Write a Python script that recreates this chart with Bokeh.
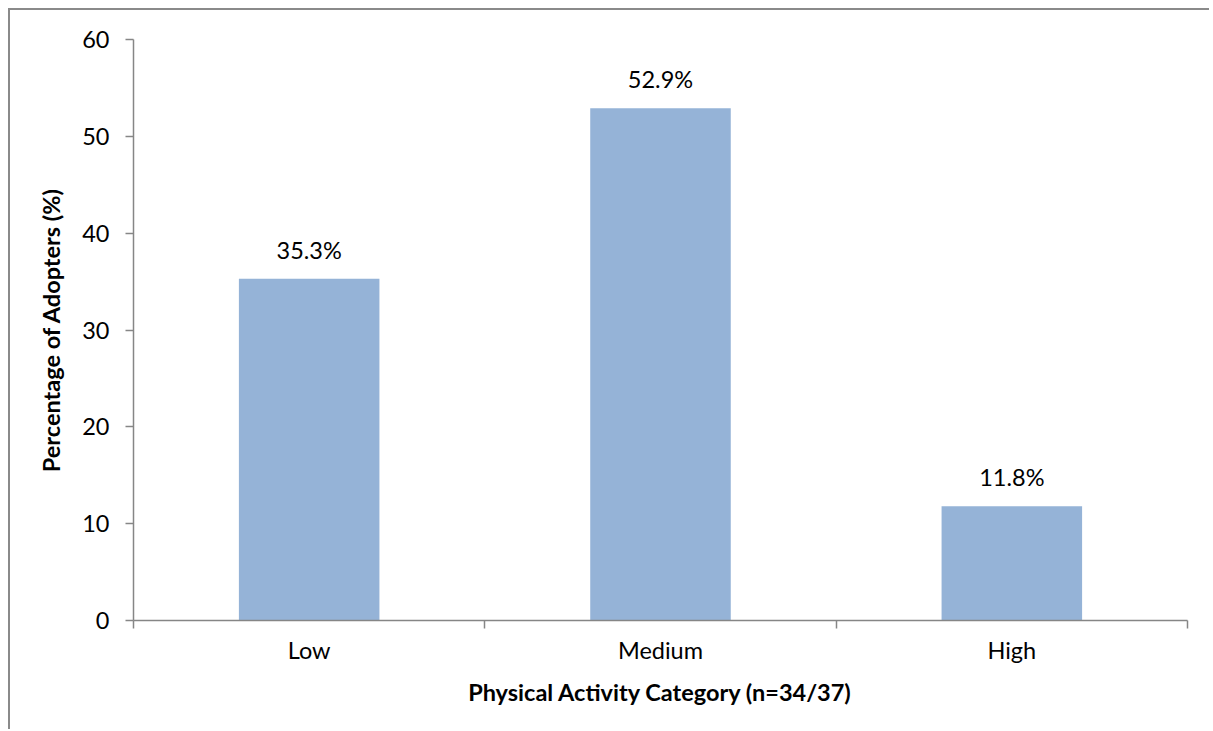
from bokeh.plotting import figure
from bokeh.models import ColumnDataSource, FixedTicker, Range1d
from bokeh.core.properties import value
from bokeh.embed import file_html
from bokeh.resources import INLINE

categories = ["Low", "Medium", "High"]
percentages = [35.3, 52.9, 11.8]
bar_labels = ["35.3%", "52.9%", "11.8%"]
y_ticks = [0, 10, 20, 30, 40, 50, 60]

FONT = "Lato"
FS = "23.5px"
positions = [i + 0.5 for i in range(len(categories))]

src = ColumnDataSource(dict(x=positions, top=percentages, label=bar_labels))

p = figure(width=1201, height=721, output_backend="svg", toolbar_location=None,
           x_range=Range1d(0, len(categories)), y_range=Range1d(0, 60),
           min_border_left=123, min_border_top=29, min_border_right=24, min_border_bottom=111,
           styles={"border-left": "2px solid #8a8a8a", "border-top": "2px solid #8a8a8a",
                   "margin-left": "8px", "margin-top": "8px"})
p.outline_line_color = None
p.xgrid.grid_line_color = None
p.ygrid.grid_line_color = None
p.background_fill_color = "white"
p.border_fill_color = "white"

p.vbar(x="x", top="top", width=0.4, bottom=0, source=src, fill_color="#95B3D7", line_color=None)
p.text(x="x", y="top", text="label", source=src, text_align="center", text_baseline="bottom",
       y_offset=-15, text_font=value(FONT), text_font_size=FS, text_color="black")

# x axis
p.xaxis.ticker = FixedTicker(ticks=positions, minor_ticks=list(range(len(categories) + 1)))
p.xaxis.major_label_overrides = {pos: c for pos, c in zip(positions, categories)}
p.xaxis.major_tick_out = 0
p.xaxis.major_tick_in = 0
p.xaxis.minor_tick_out = 8
p.xaxis.minor_tick_in = 0
p.xaxis.axis_label = "Physical Activity Category (n=34/37)"

p.yaxis.ticker = FixedTicker(ticks=y_ticks)
p.yaxis.major_tick_out = 8
p.yaxis.major_tick_in = 0
p.yaxis.minor_tick_line_color = None
p.yaxis.axis_label = "Percentage of Adopters (%)"

for ax in (p.xaxis[0], p.yaxis[0]):
    ax.axis_line_color = "#868686"
    ax.axis_line_width = 1.5
    ax.major_tick_line_color = "#868686"
    ax.major_tick_line_width = 1.5
    ax.minor_tick_line_color = "#868686" if ax is p.xaxis[0] else None
    ax.minor_tick_line_width = 1.5
    ax.major_label_text_font = FONT
    ax.major_label_text_font_size = FS
    ax.major_label_text_color = "black"
    ax.axis_label_text_font = FONT
    ax.axis_label_text_font_size = FS
    ax.axis_label_text_font_style = "bold"
    ax.axis_label_text_color = "black"

p.xaxis.major_label_standoff = 7
p.xaxis.axis_label_standoff = 11
p.yaxis.major_label_standoff = 16
p.yaxis.axis_label_standoff = 14

open("out.html", "w").write(file_html(p, INLINE))
